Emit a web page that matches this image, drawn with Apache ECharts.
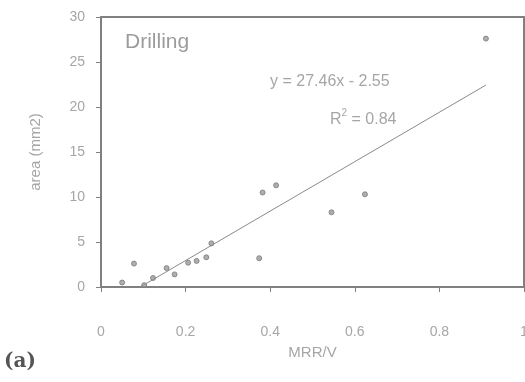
<!DOCTYPE html>
<html>
<head>
<meta charset="utf-8">
<script src="https://cdn.jsdelivr.net/npm/echarts@6/dist/echarts.min.js"></script>
<style>
  html, body { margin: 0; padding: 0; background: #fff; }
  #main { width: 525px; height: 382px; }
</style>
</head>
<body>
<div id="main"></div>
<script>
// measured points (MRR/V, area)
var mrrV = [0.05, 0.078, 0.102, 0.123, 0.155, 0.174, 0.206, 0.226, 0.249, 0.261, 0.374, 0.382, 0.414, 0.545, 0.624, 0.91];
var area = [0.5, 2.6, 0.2, 1.0, 2.1, 1.4, 2.7, 2.9, 3.3, 4.85, 3.2, 10.5, 11.3, 8.3, 10.3, 27.6];

// linear trend y = 27.46x - 2.55, drawn from where it meets 0 to the last point
var slope = 27.46;
var intercept = -2.55;
var fitX = [0.093, 0.91];

var xTicks = ['0', '0.2', '0.4', '0.6', '0.8', '1'];
var yTicks = ['0', '5', '10', '15', '20', '25', '30'];

var points = mrrV.map(function (x, i) { return [x, area[i]]; });
var fitLine = fitX.map(function (x) { return [x, slope * x + intercept]; });

var textGray = '#a6a6a6';
var axisGray = '#808080';

// plain frame line for top / right sides
var frameAxis = {
    type: 'value', min: 0, max: 1,
    axisLine: { show: true, onZero: false, lineStyle: { color: axisGray, width: 2 } },
    axisTick: { show: false }, axisLabel: { show: false }, splitLine: { show: false }
};

var chart = echarts.init(document.getElementById('main'));
chart.setOption({
    animation: false,
    backgroundColor: '#fff',
    grid: {
        left: 101, top: 17, width: 423, height: 270,
        outerBoundsMode: 'none', containLabel: false
    },
    xAxis: [{
        type: 'value', min: 0, max: 1, interval: 0.2,
        name: 'MRR/V', nameLocation: 'middle', nameGap: 58,
        nameTextStyle: { color: textGray, fontSize: 15, fontFamily: 'Liberation Sans' },
        axisLine: { show: true, onZero: false, lineStyle: { color: axisGray, width: 2 } },
        axisTick: { show: true, inside: false, length: 5, lineStyle: { color: axisGray } },
        axisLabel: {
            color: textGray, fontSize: 14, fontFamily: 'Liberation Sans', margin: 38,
            formatter: function (v) { return xTicks[Math.round(v / 0.2)]; }
        },
        splitLine: { show: false }
    }, Object.assign({ position: 'top' }, frameAxis)],
    yAxis: [{
        type: 'value', min: 0, max: 30, interval: 5,
        name: 'area (mm2)', nameLocation: 'middle', nameGap: 58,
        nameTextStyle: { color: textGray, fontSize: 15, fontFamily: 'Liberation Sans' },
        axisLine: { show: true, onZero: false, lineStyle: { color: axisGray, width: 2 } },
        axisTick: { show: true, length: 5, lineStyle: { color: axisGray } },
        axisLabel: {
            color: textGray, fontSize: 14, fontFamily: 'Liberation Sans', margin: 16,
            formatter: function (v) { return yTicks[Math.round(v / 5)]; }
        },
        splitLine: { show: false }
    }, Object.assign({ position: 'right' }, frameAxis)],
    graphic: [
        { type: 'text', left: 125, top: 32,
          style: { text: 'Drilling', fill: '#9c9c9c', fontSize: 21, fontFamily: 'Liberation Sans' } },
        { type: 'text', left: 270, top: 74,
          style: { text: 'y = 27.46x - 2.55', fill: textGray, fontSize: 16, fontFamily: 'Liberation Sans' } },
        { type: 'text', left: 330, top: 108,
          style: {
              text: '{r|R}{s|2}{r| = 0.84}', fill: textGray,
              rich: {
                  r: { fontSize: 16, fontFamily: 'Liberation Sans', color: textGray, verticalAlign: 'bottom' },
                  s: { fontSize: 10, fontFamily: 'Liberation Sans', color: textGray, verticalAlign: 'top', padding: [0, 0, 10, 0] }
              }
          } },
        { type: 'text', left: 4, top: 352,
          style: { text: '(a)', fill: '#555', fontSize: 20, fontWeight: 'bold', fontFamily: 'DejaVu Serif' } }
    ],
    series: [
        {
            type: 'line', data: fitLine, symbol: 'none',
            lineStyle: { color: '#8a8a8a', width: 1 }, z: 2
        },
        {
            type: 'scatter', data: points, symbol: 'circle', symbolSize: 5,
            itemStyle: { color: '#9a9a9a', borderColor: '#7a7a7a', borderWidth: 1 }, z: 3
        }
    ]
});
</script>
</body>
</html>
